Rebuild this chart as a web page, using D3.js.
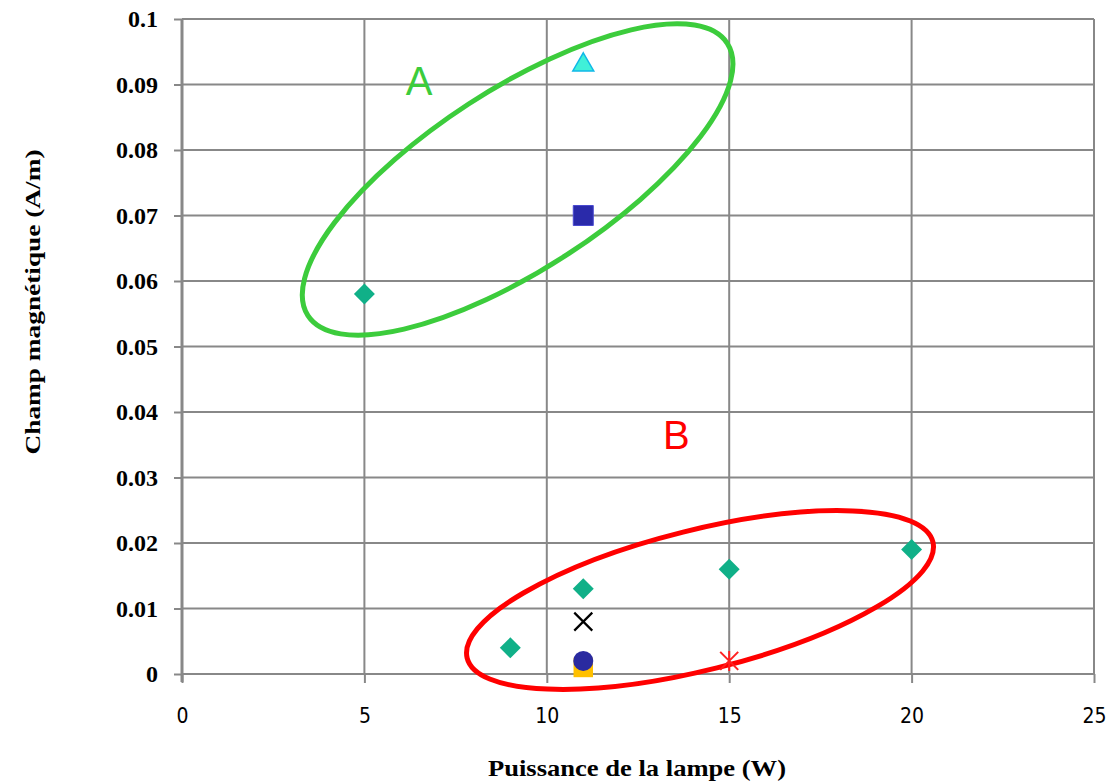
<!DOCTYPE html>
<html>
<head>
<meta charset="utf-8">
<script src="https://cdn.jsdelivr.net/npm/d3@7"></script>
<style>
  html, body { margin: 0; padding: 0; background: #fff; }
  svg { display: block; }
</style>
</head>
<body>
<svg id="chart" width="1119" height="783"></svg>
<script>
// Axis ticks
const xTicks = [0, 5, 10, 15, 20, 25];
const yTicks = [0, 0.01, 0.02, 0.03, 0.04, 0.05, 0.06, 0.07, 0.08, 0.09, 0.1];
const yTickLabels = ["0", "0.01", "0.02", "0.03", "0.04", "0.05", "0.06", "0.07", "0.08", "0.09", "0.1"];

// Measurements: lamp power (W) and magnetic field (A/m), one array per lamp type
const diamondPts = [[5, 0.058], [9, 0.004], [11, 0.013], [15, 0.016], [20, 0.019]];
const trianglePts = [[11, 0.093]];
const squarePts = [[11, 0.070]];
const crossPts = [[11, 0.008]];
const circlePts = [[11, 0.002]];
const yellowSquarePts = [[11, 0.001]];
const starPts = [[15, 0.002]];

// Group outlines: centre in data units, radii in px, tilt in degrees
const groups = [
  { label: "A", cx: 9.2, cy: 0.0755, rx: 250, ry: 90, tilt: -33, color: "#3ccc3c", lx: 6.5, ly: 0.0905 },
  { label: "B", cx: 14.2, cy: 0.0113, rx: 240, ry: 70, tilt: -14, color: "#ff0000", lx: 13.55, ly: 0.0365 }
];

const svg = d3.select("#chart");
const x = d3.scaleLinear().domain([0, 25]).range([182, 1094]);
const y = d3.scaleLinear().domain([0, 0.1]).range([674, 19]);

const gridColor = "#888888";

// Gridlines
svg.append("g").selectAll("line.h").data(yTicks.slice(1)).join("line")
  .attr("x1", x(0)).attr("x2", x(25))
  .attr("y1", d => y(d)).attr("y2", d => y(d))
  .attr("stroke", gridColor).attr("stroke-width", 2);
svg.append("g").selectAll("line.v").data(xTicks.slice(1)).join("line")
  .attr("y1", y(0)).attr("y2", y(0.1))
  .attr("x1", d => x(d)).attr("x2", d => x(d))
  .attr("stroke", gridColor).attr("stroke-width", 2);

// Axes
const yAxis = d3.axisLeft(y).tickValues(yTicks).tickSize(8).tickPadding(16)
  .tickFormat((d, i) => yTickLabels[i]);
const gy = svg.append("g").attr("transform", `translate(${x(0)},0)`).call(yAxis);
gy.select(".domain").attr("stroke", gridColor).attr("stroke-width", 3)
  .attr("d", `M0,${y(0) + 8}V${y(0.1)}`);
gy.selectAll(".tick line").attr("stroke", gridColor).attr("stroke-width", 2);
gy.selectAll(".tick text")
  .attr("font-family", "'Liberation Serif', 'Times New Roman', serif")
  .attr("font-weight", "bold").attr("font-size", 24).attr("fill", "#000");

const xAxis = d3.axisBottom(x).tickValues(xTicks).tickSize(9).tickPadding(25);
const gx = svg.append("g").attr("transform", `translate(0,${y(0)})`).call(xAxis);
gx.select(".domain").attr("stroke", gridColor).attr("stroke-width", 2)
  .attr("d", `M${x(0)},0H${x(25)}`);
gx.selectAll(".tick line").attr("stroke", gridColor).attr("stroke-width", 2);
gx.selectAll(".tick text")
  .attr("font-family", "'Liberation Sans Narrow', 'DejaVu Sans Condensed', 'Liberation Sans', sans-serif")
  .attr("font-size", 21).attr("fill", "#000");

// Axis titles
svg.append("text")
  .attr("transform", `translate(40,302) rotate(-90)`)
  .attr("text-anchor", "middle")
  .attr("font-family", "'Liberation Serif', 'Times New Roman', serif")
  .attr("font-weight", "bold").attr("font-size", 21)
  .attr("textLength", 305).attr("lengthAdjust", "spacingAndGlyphs")
  .text("Champ magnétique (A/m)");
svg.append("text")
  .attr("x", 637).attr("y", 776)
  .attr("text-anchor", "middle")
  .attr("font-family", "'Liberation Serif', 'Times New Roman', serif")
  .attr("font-weight", "bold").attr("font-size", 24)
  .attr("textLength", 298).attr("lengthAdjust", "spacingAndGlyphs")
  .text("Puissance de la lampe (W)");

// Group ellipses and letters
const gGroups = svg.append("g");
groups.forEach(g => {
  gGroups.append("ellipse")
    .attr("transform", `translate(${x(g.cx)},${y(g.cy)}) rotate(${g.tilt})`)
    .attr("rx", g.rx).attr("ry", g.ry)
    .attr("fill", "none").attr("stroke", g.color).attr("stroke-width", 5);
  gGroups.append("text")
    .attr("x", x(g.lx)).attr("y", y(g.ly))
    .attr("text-anchor", "middle").attr("dominant-baseline", "central")
    .attr("font-family", "'Liberation Sans', Arial, sans-serif")
    .attr("font-size", 40).attr("fill", g.color)
    .text(g.label);
});

// Markers
const marks = svg.append("g");
function sym(type, size) { return d3.symbol().type(type).size(size)(); }

marks.selectAll("path.diamond").data(diamondPts).join("path")
  .attr("transform", d => `translate(${x(d[0])},${y(d[1])}) rotate(45)`)
  .attr("d", sym(d3.symbolSquare, 220))
  .attr("fill", "#10b088");

marks.selectAll("path.tri").data(trianglePts).join("path")
  .attr("transform", d => `translate(${x(d[0])},${y(d[1])})`)
  .attr("d", sym(d3.symbolTriangle, 190))
  .attr("fill", "#40f0d8").attr("stroke", "#10b8e8").attr("stroke-width", 1.5);

marks.selectAll("path.sq").data(squarePts).join("path")
  .attr("transform", d => `translate(${x(d[0])},${y(d[1])})`)
  .attr("d", sym(d3.symbolSquare, 400))
  .attr("fill", "#2a2aaa").attr("stroke", "#4a4ad0").attr("stroke-width", 1);

marks.selectAll("path.cross").data(crossPts).join("path")
  .attr("transform", d => `translate(${x(d[0])},${y(d[1])})`)
  .attr("d", "M-9,-9L9,9M-9,9L9,-9")
  .attr("stroke", "#000").attr("stroke-width", 2.2).attr("fill", "none");

marks.selectAll("path.ysq").data(yellowSquarePts).join("path")
  .attr("transform", d => `translate(${x(d[0])},${y(d[1])})`)
  .attr("d", sym(d3.symbolSquare, 380))
  .attr("fill", "#ffc000");

marks.selectAll("circle.dot").data(circlePts).join("circle")
  .attr("cx", d => x(d[0])).attr("cy", d => y(d[1]))
  .attr("r", 10).attr("fill", "#2a2aa0");

marks.selectAll("path.star").data(starPts).join("path")
  .attr("transform", d => `translate(${x(d[0])},${y(d[1])})`)
  .attr("d", "M-9,-9L9,9M-9,9L9,-9M0,-10V10")
  .attr("stroke", "#ff2020").attr("stroke-width", 2).attr("fill", "none");
</script>
</body>
</html>
